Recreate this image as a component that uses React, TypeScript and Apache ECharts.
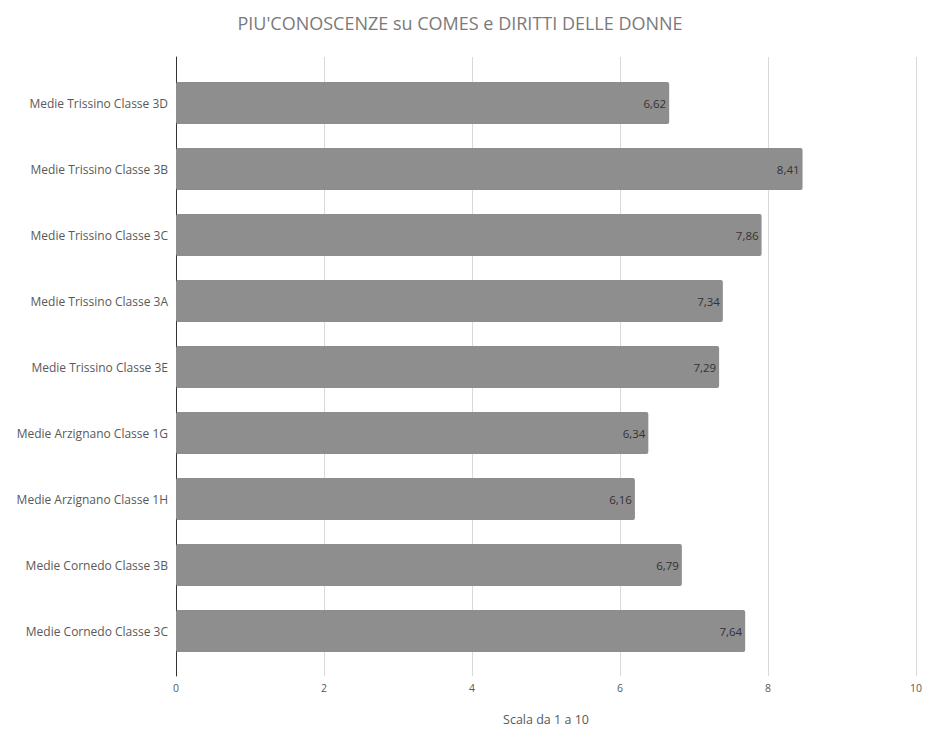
import React, { useEffect, useRef } from "react";
import * as echarts from "echarts";

const titleText = "PIU'CONOSCENZE su COMES e DIRITTI DELLE DONNE";
const axisName = "Scala da 1 a 10";
const categories = [
  "Medie Trissino Classe 3D",
  "Medie Trissino Classe 3B",
  "Medie Trissino Classe 3C",
  "Medie Trissino Classe 3A",
  "Medie Trissino Classe 3E",
  "Medie Arzignano Classe 1G",
  "Medie Arzignano Classe 1H",
  "Medie Cornedo Classe 3B",
  "Medie Cornedo Classe 3C",
];
const values = [6.62, 8.41, 7.86, 7.34, 7.29, 6.34, 6.16, 6.79, 7.64];
const axisMin = 0;
const axisMax = 10;
const axisStep = 2;

const FONT = "'Open Sans', 'Noto Sans', sans-serif";

export default function App() {
  const ref = useRef<HTMLDivElement>(null);
  useEffect(() => {
    if (!ref.current) return;
    const chart = echarts.init(ref.current, undefined, { renderer: "svg" });
    chart.setOption({
      animation: false,
      backgroundColor: "#ffffff",
      textStyle: { fontFamily: FONT },
      title: {
        text: titleText,
        left: 455,
        textAlign: "center",
        top: 9,
        textStyle: { fontFamily: FONT, fontSize: 18, fontWeight: "normal", color: "#7a7a7a" },
      },
      grid: [
        { left: 176, right: 4, top: 57, bottom: 56 },
        { left: 176, right: 4, top: 70, bottom: 68 },
      ],
      xAxis: [
        {
          gridIndex: 0,
          type: "value",
          min: axisMin,
          max: axisMax,
          interval: axisStep,
          axisLine: { show: false },
          axisTick: { show: false },
          axisLabel: { fontSize: 10.5, color: "#595959", margin: 6, fontFamily: FONT },
          splitLine: { show: true, lineStyle: { color: "#d9d9d9", width: 1 } },
          name: axisName,
          nameLocation: "middle",
          nameGap: 37,
          nameTextStyle: { fontSize: 12.5, color: "#595959", fontFamily: FONT },
        },
        {
          gridIndex: 1,
          type: "value",
          min: axisMin,
          max: axisMax,
          interval: axisStep,
          show: false,
        },
      ],
      yAxis: [
        {
          gridIndex: 0,
          type: "value",
          min: 0,
          max: 1,
          axisLine: { show: true, lineStyle: { color: "#333333", width: 1 } },
          axisTick: { show: false },
          axisLabel: { show: false },
          splitLine: { show: false },
        },
        {
          gridIndex: 1,
          type: "category",
          data: categories,
          inverse: true,
          axisLine: { show: false },
          axisTick: { show: false },
          axisLabel: { fontSize: 12, color: "#595959", margin: 8, fontFamily: FONT },
        },
      ],
      series: [
        {
          type: "bar",
          xAxisIndex: 1,
          yAxisIndex: 1,
          data: values,
          barWidth: 42,
          itemStyle: { color: "#8e8e8e", borderRadius: 2 },
          label: {
            show: true,
            position: "insideRight",
            distance: 3,
            fontSize: 11.5,
            color: "#333333",
            fontFamily: FONT,
            formatter: (p: any) => p.value.toFixed(2).replace(".", ","),
          },
        },
      ],
    });
    return () => chart.dispose();
  }, []);
  return (
    <div
      ref={ref}
      style={{ position: "absolute", left: 0, top: 0, width: 925, height: 732 }}
    />
  );
}
